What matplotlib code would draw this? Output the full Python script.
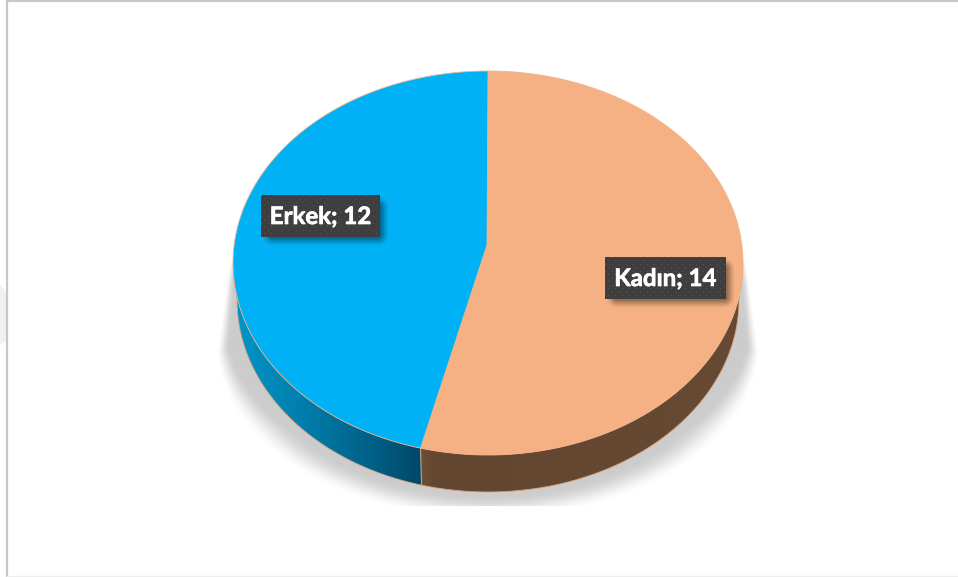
import numpy as np
import matplotlib
matplotlib.use('Agg')
import matplotlib.pyplot as plt
import matplotlib.patheffects as pe
from matplotlib.patches import Polygon

# chart data
categories = ['Kadın', 'Erkek']
values = [14, 12]
top_colors = ['#f5b183', '#00b1f5']
side_stops = [
    [(0.0, '#6e4e36'), (0.05, '#63462f'), (1.0, '#664a33')],
    [(0.0, '#0096c8'), (0.35, '#007fae'), (0.75, '#005f85'), (1.0, '#004766')],
]

W, H = 958, 577
# ellipse of the top face, apex of the slices, wall height
cx, cy, rx, ry = 488, 263, 255, 192
apex = np.array([487.0, 245.0])
depth = 37
low_rx = 251

fig = plt.figure(figsize=(W / 100, H / 100), dpi=100)
ax = fig.add_axes([0, 0, 1, 1])
ax.set_xlim(0, W)
ax.set_ylim(H, 0)
ax.axis('off')

yy, xx = np.mgrid[0:H, 0:W] + 0.5


def rim(t, a=rx, dy=0):
    return np.c_[cx + a * np.sin(t), cy + dy - ry * np.cos(t)]


def hex_rgb(c):
    return np.array(matplotlib.colors.to_rgb(c))


def seen_angle(t):
    # the apex sits above the ellipse centre, follow the ray from it out to the rim
    d = np.array([rx * np.sin(t), -ry * np.cos(t)])
    ox, oy = (apex[0] - cx) / rx, (apex[1] - cy) / ry
    ux, uy = d[0] / rx, d[1] / ry
    qa, qb, qc = ux ** 2 + uy ** 2, 2 * (ox * ux + oy * uy), ox ** 2 + oy ** 2 - 1
    s = (-qb + np.sqrt(qb ** 2 - 4 * qa * qc)) / (2 * qa)
    p = apex + s * d
    return np.arctan2((p[0] - cx) / rx, -(p[1] - cy) / ry) % (2 * np.pi)


# frame of the slide
ax.plot([7.5, 7.5], [1, H], color='#c8c8c8', lw=1.6)
ax.plot([7, W], [1.2, 1.2], color='#c8c8c8', lw=1.6)
ax.plot([7, W], [576.3, 576.3], color='#eeeeee', lw=1)
ax.add_patch(Polygon([[0, 284], [7, 294], [7, 340], [0, 345]], fc='#f1f1f1', ec='none'))

# soft shadow below the pie
dx = np.abs(xx - 488)
d_low = (np.sqrt((dx / 272) ** 2 + ((yy - 350) / 170) ** 2) - 1) * 272
d_up = dx - (272 - (350 - yy) * 0.15)
d = np.where(yy < 350, d_up, d_low)
fade = np.interp(yy, [280, 350, 430], [8, 14, 40])
a = np.clip(-d / fade, 0, 1)
a = a * a * (3 - 2 * a)
a[(yy < 262) | (yy > 506)] = 0
shadow = np.zeros((H, W, 4))
shadow[..., 3] = a * 0.2
ax.imshow(shadow, extent=(0, W, H, 0), aspect='auto', zorder=1, interpolation='bilinear')

# slices, clockwise from the top
angles = np.cumsum([0] + values) / sum(values) * 2 * np.pi
angles[1] = seen_angle(angles[1])
for i in range(len(values)):
    t0, t1 = angles[i], angles[i + 1]
    t = np.linspace(t0, t1, 200)

    # wall, only the part facing us
    ts = np.linspace(max(t0, np.pi / 2), min(t1, 3 * np.pi / 2), 200)
    wall = np.r_[rim(ts), rim(ts[::-1], low_rx, depth)]
    patch = Polygon(wall, fc='none', ec='none', zorder=2)
    ax.add_patch(patch)
    stops = side_stops[i]
    x0, x1 = wall[:, 0].min(), wall[:, 0].max()
    pos = np.linspace(0, 1, 256)
    ramp = np.array([np.interp(pos, [s[0] for s in stops],
                               [hex_rgb(s[1])[k] for s in stops]) for k in range(3)]).T
    im = ax.imshow(ramp[None, :, :], extent=(x0, x1, wall[:, 1].max(), wall[:, 1].min()),
                   aspect='auto', zorder=2)
    im.set_clip_path(patch)
    low = rim(ts, low_rx, depth)
    ax.plot(low[:, 0], low[:, 1], color='#d9a27c', lw=0.6, zorder=3)

    # top face
    face = np.r_[[apex], rim(t)]
    ax.add_patch(Polygon(face, fc=top_colors[i], ec='#f0b48c', lw=0.6, zorder=4))

# line between the two walls
b = angles[1]
p0, p1 = rim(np.array([b]))[0], rim(np.array([b]), low_rx, depth)[0]
ax.plot([p0[0], p1[0]], [p0[1], p1[1]], color='#b9a58f', lw=0.8, zorder=3)


def soft_box(x0, y0, x1, y1, blur):
    ox = np.maximum(np.maximum(x0 - xx, xx - x1), 0)
    oy = np.maximum(np.maximum(y0 - yy, yy - y1), 0)
    s = np.clip(1 - np.hypot(ox, oy) / blur, 0, 1)
    return s * s * (3 - 2 * s)


# data labels
boxes = [(605, 257, 726, 299), (261, 195, 380, 237)]
for name, v, (x0, y0, x1, y1) in zip(categories, values, boxes):
    sh = np.zeros((H, W, 4))
    sh[..., 3] = soft_box(x0 + 12, y0 + 12, x1 - 2, y1 - 2, 12) * 0.45
    ax.imshow(sh, extent=(0, W, H, 0), aspect='auto', zorder=5)

    nx, ny = x1 - x0, y1 - y0
    py, px = np.mgrid[0:ny, 0:nx]
    tile = np.full((ny, nx), 0x3e) / 255
    dots = ((px % 7 == 3) & (py % 7 == 3)) | ((px % 7 == 0) & (py % 7 == 0))
    tile[dots] = 0x58 / 255
    ax.imshow(tile, cmap='gray', vmin=0, vmax=1, extent=(x0, x1, y1, y0), aspect='auto',
              zorder=6, interpolation='bilinear')
    ax.text((x0 + x1) / 2, (y0 + y1) / 2 + 0.5, f'{name}; {v}', color='white', fontsize=17.3,
            fontweight='bold', family='Lato', ha='center', va='center', zorder=7,
            path_effects=[pe.withStroke(linewidth=0.5, foreground='white')])

ax.set_xlim(0, W)
ax.set_ylim(H, 0)
fig.savefig('out.png', dpi=100, facecolor='white')
